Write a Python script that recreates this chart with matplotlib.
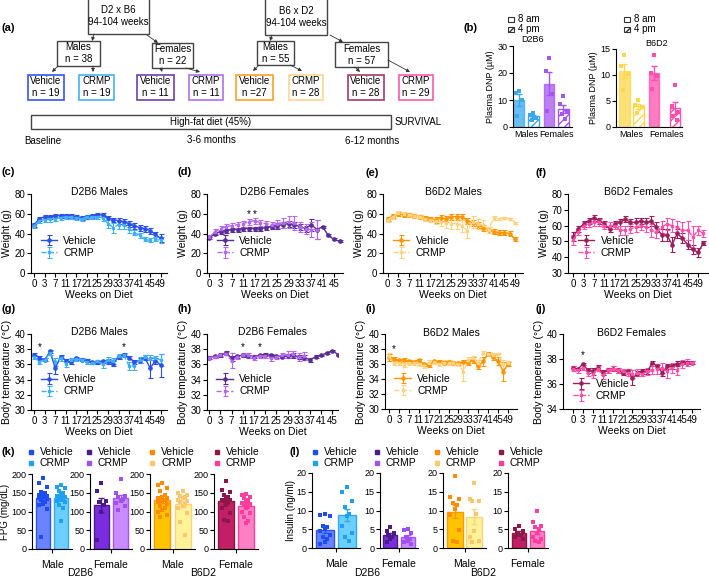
import matplotlib.pyplot as plt
import numpy as np
from matplotlib.patches import Rectangle

plt.rcParams['font.family'] = ['Liberation Sans', 'DejaVu Sans']
plt.rcParams['font.size'] = 7
plt.rcParams['axes.linewidth'] = 0.8

# ---------------- data ----------------
week_labels_49 = ['0', '3', '7', '11', '17', '21', '25', '29', '33', '37', '41', '45', '49']
week_labels_45 = ['0', '3', '7', '11', '17', '21', '25', '29', '33', '37', '41', '45']

# (c) D2B6 males weight
c_veh = [49, 55, 57, 57, 58, 58, 58, 58, 57, 56, 57, 58, 59, 59, 56, 54, 53, 52, 50, 48, 46, 45, 43, 39, 35]
c_veh_err = [2, 2, 2, 2, 2, 2, 2, 2, 2, 2, 2, 2, 2, 2, 2, 2, 3, 3, 3, 3, 3, 3, 3, 3, 4]
c_crmp = [48, 53, 54, 55, 55, 56, 57, 57, 56, 55, 57, 57, 57, 56, 50, 46, 49, 49, 45, 41, 38, 34, 33, 34, 33]
c_crmp_err = [2, 2, 2, 3, 2, 2, 2, 2, 2, 2, 2, 2, 2, 3, 4, 5, 4, 4, 4, 3, 3, 2, 2, 2, 3]
# (d) D2B6 females weight
d_veh = [35, 40, 42, 43, 44, 44, 45, 45, 45, 45, 46, 47, 48, 49, 50, 49, 47, 45, 49, 44, 47, 38, 34, 32]
d_veh_err = [1, 2, 2, 2, 2, 2, 2, 2, 2, 2, 2, 2, 3, 3, 3, 3, 3, 3, 6, 10, 1, 1, 1, 1]
d_crmp = [36, 42, 45, 47, 48, 49, 50, 52, 53, 51, 50, 49, 50, 51, 52, 51, 47, 45, 44, 44]
d_crmp_err = [2, 3, 3, 3, 3, 3, 3, 3, 3, 3, 3, 3, 4, 5, 6, 7, 5, 5, 8, 10]
d_stars = [7, 8]
# (e) B6D2 males weight
e_veh = [55, 58, 60, 59, 59, 58, 57, 56, 55, 54, 56, 55, 57, 57, 57, 53, 51, 49, 46, 44, 42, 41, 41, 40, 34]
e_veh_err = [2, 2, 2, 2, 2, 2, 2, 2, 2, 3, 3, 3, 3, 3, 3, 3, 3, 3, 3, 3, 3, 3, 3, 3, 2]
e_crmp = [54, 57, 61, 60, 59, 58, 57, 55, 54, 53, 52, 51, 50, 50, 48, 43, 52, 50, 49, 44, 56, 55, 56, 55, 51]
e_crmp_err = [2, 2, 2, 2, 2, 2, 2, 2, 2, 3, 4, 5, 5, 5, 6, 8, 6, 5, 5, 3, 2, 1, 1, 1, 1]
# (f) B6D2 females weight
f_veh = [53, 58, 61, 63, 65, 63, 61, 58, 61, 62, 64, 62, 62, 63, 62, 63, 59, 54, 54, 48, 55, 52, 48, 45, 43, 49]
f_veh_err = [3, 2, 2, 2, 2, 2, 2, 2, 2, 2, 2, 2, 3, 2, 3, 3, 3, 4, 4, 5, 3, 3, 3, 3, 3, 1]
f_crmp = [51, 56, 60, 61, 62, 62, 60, 60, 60, 57, 57, 58, 59, 60, 59, 57, 56, 59, 61, 60, 59, 57, 57, 53, 57, 55]
f_crmp_err = [3, 2, 2, 2, 2, 2, 2, 2, 2, 3, 3, 3, 3, 3, 3, 4, 4, 4, 4, 4, 4, 5, 6, 7, 3, 2]

# (g) D2B6 males temperature
g_veh = [37.3, 36.9, 36.6, 37.7, 35.5, 37.0, 36.5, 36.3, 36.8, 36.6, 36.5, 36.3, 36.3, 36.4, 36.4, 36.1,
         37.0, 37.3, 36.9, 36.3, 36.5, 36.9, 35.5, 36.5, 35.9]
g_veh_err = [0.2, 0.2, 0.2, 0.2, 0.8, 0.2, 0.2, 0.2, 0.2, 0.2, 0.2, 0.2, 0.2, 0.2, 0.3, 0.3, 0.3, 0.2,
             0.2, 0.3, 0.3, 0.3, 1.3, 0.4, 1.5]
g_crmp = [37.0, 36.3, 36.6, 37.5, 36.3, 36.8, 36.1, 36.6, 36.7, 36.6, 36.3, 36.2, 36.4, 36.0, 36.6, 36.5,
          37.1, 37.2, 35.8, 35.8, 36.6, 37.0, 36.9, 36.8, 36.6]
g_crmp_err = [0.3, 0.3, 0.2, 0.2, 0.5, 0.3, 0.4, 0.2, 0.2, 0.2, 0.3, 0.2, 0.2, 0.5, 0.4, 0.4, 0.3, 0.2,
              0.5, 0.6, 0.4, 0.3, 0.3, 0.3, 0.8]
g_stars = [1, 17]
# (h) D2B6 females temperature
h_veh = [36.9, 37.1, 37.2, 37.5, 36.8, 37.1, 37.2, 37.1, 37.0, 37.2, 37.3, 37.2, 37.1, 37.0, 37.1, 37.2,
         37.0, 36.9, 36.6, 37.0, 37.2, 37.5, 37.8, 37.3]
h_veh_err = [0.2, 0.2, 0.2, 0.2, 0.3, 0.2, 0.2, 0.2, 0.2, 0.2, 0.2, 0.2, 0.2, 0.2, 0.3, 0.3, 0.3, 0.3,
             0.3, 0.2, 0.1, 0.1, 0.1, 0.1]
h_crmp = [36.9, 37.0, 37.3, 37.4, 36.5, 37.0, 37.3, 37.2, 36.9, 37.1, 37.1, 36.8, 37.0, 37.2, 37.3, 37.4,
          37.0, 37.1]
h_crmp_err = [0.2, 0.2, 0.2, 0.2, 1.0, 0.3, 0.2, 0.3, 0.3, 0.2, 0.2, 0.3, 0.3, 0.3, 0.4, 0.4, 0.5, 0.5]
h_stars = [6, 9]
# (i) B6D2 males temperature
i_veh = [36.9, 36.7, 36.5, 36.6, 36.4, 36.3, 36.5, 36.0, 35.9, 36.4, 36.3, 36.2, 36.3, 36.1, 36.1, 36.3,
         36.2, 36.5, 35.7, 36.4, 37.4, 36.9, 36.4, 35.0, 36.0]
i_veh_err = [0.5, 0.2, 0.2, 0.2, 0.2, 0.2, 0.2, 0.2, 0.3, 0.2, 0.2, 0.2, 0.2, 0.2, 0.2, 0.2, 0.3, 0.4,
             0.4, 0.6, 0.2, 0.3, 0.5, 1.3, 0.3]
i_crmp = [37.1, 36.1, 36.2, 35.9, 36.1, 36.2, 36.0, 35.8, 36.2, 36.3, 36.0, 36.2, 36.2, 36.1, 36.0, 35.0,
          36.5, 36.8, 36.2, 37.5, 37.3, 37.2, 37.4, 36.0, 36.1]
i_crmp_err = [0.4, 0.3, 0.3, 0.3, 0.3, 0.3, 0.3, 0.3, 0.3, 0.3, 0.3, 0.3, 0.3, 0.3, 0.3, 1.2, 0.4, 0.3,
              0.4, 0.2, 0.2, 0.2, 0.1, 0.5, 0.3]
i_stars = [1]
# (j) B6D2 females temperature
j_veh = [37.3, 37.2, 37.6, 37.1, 37.0, 37.3, 36.9, 37.1, 37.2, 37.1, 36.9, 37.0, 36.5, 36.8, 37.0, 37.0,
         37.7, 37.4, 36.9, 37.4, 37.4, 37.6, 37.7, 37.7, 37.7]
j_veh_err = [0.1, 0.1, 0.1, 0.2, 0.3, 0.2, 0.2, 0.2, 0.2, 0.2, 0.2, 0.2, 0.6, 0.2, 0.2, 0.2, 0.1, 0.1,
             0.3, 0.2, 0.2, 0.2, 0.1, 0.1, 0.1]
j_crmp = [37.2, 37.1, 37.3, 36.9, 36.8, 37.2, 36.7, 37.1, 37.2, 37.1, 37.0, 36.9, 36.8, 36.9, 36.8, 37.0,
          37.1, 37.2, 37.3, 37.0, 37.3, 37.1, 37.6, 37.7, 37.7]
j_crmp_err = [0.2, 0.2, 0.2, 0.3, 0.3, 0.2, 0.3, 0.2, 0.2, 0.2, 0.2, 0.3, 0.3, 0.3, 0.2, 0.3, 0.3, 0.4,
              0.4, 0.5, 0.4, 0.4, 0.3, 0.3, 0.1]
j_stars = [2]

# (b) plasma DNP, groups: males 8am, males 4pm, females 8am, females 4pm
b_d2b6 = [[13.3, 12.6, 10.1, 4.0], [5.3, 4.3, 3.5, 2.5], [25.7, 20.7, 12.1, 5.9], [11.5, 8.6, 5.6, 4.9, 3.1]]
b_b6d2 = [[13.8, 11.8, 10.2, 7.2], [5.1, 4.2, 3.9, 2.7], [13.8, 10.4, 9.8, 7.3], [8.1, 4.0, 2.9, 2.2, 1.3]]

# (k) fasting plasma glucose
k_d2b6_m_veh = [190, 176, 165, 152, 150, 148, 145, 142, 140, 140, 138, 136, 134, 130, 125, 120, 118, 108, 32]
k_d2b6_m_crmp = [172, 165, 162, 155, 150, 145, 142, 140, 138, 135, 132, 128, 125, 118, 110, 75]
k_d2b6_f_veh = [175, 155, 128, 125, 118, 100, 25]
k_d2b6_f_crmp = [186, 150, 142, 138, 133, 128, 122, 115, 105]
k_b6d2_m_veh = [175, 170, 162, 155, 145, 140, 137, 135, 132, 130, 128, 125, 120, 115, 110, 105, 100, 90, 85]
k_b6d2_m_crmp = [155, 150, 145, 142, 138, 135, 130, 128, 125, 120, 115, 110, 95, 72, 38]
k_b6d2_f_veh = [182, 158, 152, 145, 140, 135, 132, 130, 128, 125, 118, 110, 95, 78, 75]
k_b6d2_f_crmp = [148, 145, 140, 135, 130, 125, 122, 120, 118, 115, 110, 100, 95, 85, 75, 70]
# (l) insulin
l_d2b6_m_veh = [9.0, 8.8, 8.5, 6.0, 5.5, 5.0, 4.5, 3.5, 3.0, 2.5, 1.5, 1.0]
l_d2b6_m_crmp = [16.3, 15.0, 12.5, 11.0, 9.0, 8.5, 6.0, 4.0, 3.0, 2.0]
l_d2b6_f_veh = [5.6, 4.5, 4.0, 3.5, 3.0, 2.5, 1.5]
l_d2b6_f_crmp = [5.0, 4.8, 4.0, 3.0, 2.5, 2.0, 1.5, 1.0]
l_b6d2_m_veh = [19.3, 13.5, 13.0, 12.0, 11.5, 10.5, 8.8, 4.8, 2.0, 1.5]
l_b6d2_m_crmp = [17.3, 13.0, 12.5, 12.5, 9.0, 4.5, 3.0, 2.0, 1.5]
l_b6d2_f_veh = [6.0, 5.0, 4.5, 4.0, 3.5, 3.5, 3.0, 2.5]
l_b6d2_f_crmp = [9.8, 7.0, 6.0, 5.5, 5.0, 4.0, 3.0, 2.5, 2.0, 1.5]

# colours
BLUE, LBLUE = '#2b50e8', '#3fb0f5'
PURP, LPURP = '#5a2d91', '#b566f5'
ORNG, LORNG = '#ff9500', '#ffd27f'
MAG, PINK = '#9c1f5c', '#ff4fa8'

W, H = 709, 578
fig = plt.figure(figsize=(W / 100, H / 100), dpi=100)


def px_axes(x0, y0, x1, y1):
    return fig.add_axes([x0 / W, 1 - y1 / H, (x1 - x0) / W, (y1 - y0) / H])


def prism(ax, size=7):
    ax.spines['top'].set_visible(False)
    ax.spines['right'].set_visible(False)
    ax.tick_params(length=3, width=0.8, pad=1, labelsize=size)
    ax.patch.set_alpha(0)


ov = fig.add_axes([0, 0, 1, 1])
ov.set_xlim(0, W)
ov.set_ylim(H, 0)
ov.axis('off')

# ---------------- (a) flowchart ----------------
def box(x0, y0, x1, y1, txt, ec='#444444', lw=1.0):
    ov.add_patch(Rectangle((x0, y0), x1 - x0, y1 - y0, fill=False, ec=ec, lw=lw))
    ov.text((x0 + x1) / 2, (y0 + y1) / 2, txt, ha='center', va='center', fontsize=7, linespacing=1.25)


def arrow(p0, p1):
    ov.annotate('', xy=p1, xytext=p0,
                arrowprops=dict(arrowstyle='-|>', color='#333333', lw=0.6, mutation_scale=5,
                                shrinkA=0, shrinkB=0))


box(88, -2, 149, 34, 'D2 x B6\n94-104 weeks')
box(265, -2, 327, 35, 'B6 x D2\n94-104 weeks')
box(57, 41, 100, 66, 'Males\nn = 38')
box(152, 43, 193, 68, 'Females\nn = 22')
box(257, 41, 294, 65, 'Males\nn = 55')
box(335, 42, 388, 67, 'Females\nn = 57')
leaves = [(28, 64, 'Vehicle\nn = 19', '#3555e8'), (79, 114, 'CRMP\nn = 19', '#47b0f0'),
          (137, 174, 'Vehicle\nn = 11', '#7040a8'), (189, 223, 'CRMP\nn = 11', '#b070f0'),
          (236, 273, 'Vehicle\nn =27', '#ffa028'), (289, 323, 'CRMP\nn = 28', '#ffd590'),
          (348, 384, 'Vehicle\nn = 28', '#a63a6a'), (399, 433, 'CRMP\nn = 29', '#ff5aa8')]
for x0, x1, t, c in leaves:
    box(x0, 75, x1, 100, t, ec=c, lw=1.2)
for p0, p1 in [((94, 34), (92, 41)), ((147, 35), (158, 43)), ((272, 35), (270, 41)),
               ((330, 35), (343, 42)), ((58, 66), (52, 72)), ((93, 66), (93, 72)),
               ((161, 68), (162, 72)), ((186, 68), (200, 72)), ((259, 65), (253, 71)),
               ((290, 65), (302, 71)), ((355, 67), (360, 72)), ((388, 60), (410, 72))]:
    arrow(p0, p1)
ov.add_patch(Rectangle((31, 115), 360, 14, fill=False, ec='#444444', lw=1.0))
ov.text(211, 122, 'High-fat diet (45%)', ha='center', va='center')
ov.text(395, 122, 'SURVIVAL', ha='left', va='center')
ov.text(24, 141, 'Baseline', ha='left', va='center')
ov.text(211, 140, '3-6 months', ha='center', va='center')
ov.text(372, 141, '6-12 months', ha='center', va='center')

# panel letters
for lab, x, y in [('(a)', 2, 28), ('(b)', 463, 28), ('(c)', 2, 172), ('(d)', 177, 172),
                  ('(e)', 366, 173), ('(f)', 535, 173), ('(g)', 2, 309), ('(h)', 177, 309),
                  ('(i)', 365, 309), ('(j)', 536, 309), ('(k)', 2, 452), ('(l)', 290, 452)]:
    ov.text(x, y, lab, fontsize=8, fontweight='bold', ha='left', va='center')

# ---------------- (b) plasma DNP ----------------
def dnp_panel(bx, groups, pos, c_m, c_f, title, ymax, yticks, tx, lx, xlim, flab_x):
    ax = px_axes(*bx)
    prism(ax, 6.5)
    cols = [c_m, c_m, c_f, c_f]
    offs = [0, -0.22, 0.22, -0.11, 0.11]
    for k, pts in enumerate(groups):
        m = np.mean(pts)
        se = np.std(pts, ddof=1) / np.sqrt(len(pts))
        if k % 2 == 0:
            ax.bar(pos[k], m, width=0.75, color=cols[k], alpha=0.75, ec=cols[k], lw=1)
        else:
            ax.bar(pos[k], m, width=0.75, color='white', ec=cols[k], lw=1, hatch='////')
        ax.errorbar(pos[k], m, yerr=se, color=cols[k], capsize=2.5, lw=1, capthick=1)
        ax.scatter([pos[k] + offs[i % 5] for i in range(len(pts))], pts, marker='s', s=5,
                   color=cols[k], zorder=3, lw=0)
    ax.set_ylim(0, ymax)
    ax.set_yticks(yticks)
    ax.set_xlim(*xlim)
    ax.set_xticks([(pos[0] + pos[1]) / 2, flab_x])
    ax.set_xticklabels(['Males', 'Females'], fontsize=6.5)
    ax.tick_params(axis='x', length=0, pad=2)
    ax.set_ylabel('Plasma DNP (µM)', fontsize=6.5, labelpad=2)
    ov.text(tx, bx[1] - 6, title, ha='center', va='center', fontsize=6.5)
    ov.add_patch(Rectangle((lx, 17), 6, 5, fill=False, ec='#333333', lw=0.8))
    ov.add_patch(Rectangle((lx, 27), 6, 5, fill=False, ec='#333333', lw=0.8, hatch='////'))
    ov.text(lx + 10, 19.5, '8 am', va='center')
    ov.text(lx + 10, 29.5, '4 pm', va='center')


dnp_panel((513, 46, 572, 127), b_d2b6, [0, 1, 2.1, 3.1], '#3aa8ee', '#a655f2', 'D2B6',
          30, [0, 10, 20, 30], 533, 508, (-0.4, 3.7), 2.65)
dnp_panel((616, 49, 682, 127), b_b6d2, [0, 1, 2.1, 3.6], '#ffd84a', '#ff4fae', 'B6D2',
          15, [0, 5, 10, 15], 657, 624, (-0.6, 4.1), 3.0)

# ---------------- (c)-(j) time courses ----------------
def course(bx, veh, veh_err, crmp, crmp_err, cv, cc, title, ylim, yticks, ylabel, xlim,
           labels, stars, star_y, leg_y=0.47):
    ax = px_axes(*bx)
    prism(ax)
    ax.errorbar(np.arange(len(veh)), veh, yerr=veh_err, color=cv, fmt='-o', ms=2.3, lw=1,
                elinewidth=0.8, capsize=1.8, capthick=0.8, label='Vehicle')
    ax.errorbar(np.arange(len(crmp)), crmp, yerr=crmp_err, color=cc, fmt='--s', ms=1.8, lw=1,
                elinewidth=0.8, capsize=1.8, capthick=0.8, label='CRMP')
    for s in stars:
        ax.text(s, star_y, '*', ha='center', va='center', fontsize=7)
    ax.set_xticks(np.arange(len(labels)) * 2)
    ax.set_xticklabels(labels)
    ax.set_xlim(*xlim)
    ax.set_ylim(*ylim)
    ax.set_yticks(yticks)
    ax.set_xlabel('Weeks on Diet', fontsize=7.5, labelpad=1)
    ax.set_ylabel(ylabel, fontsize=7.5, labelpad=2)
    ax.text(0.5, 1.02, title, transform=ax.transAxes, ha='center', va='center', fontsize=7.5)
    ax.legend(loc='upper left', bbox_to_anchor=(0.07, leg_y), frameon=False, fontsize=7.5,
              handlelength=1.6, handletextpad=0.6, labelspacing=0.2, borderaxespad=0, borderpad=0)
    return ax


wt = [0, 20, 40, 60, 80]
course((31, 194, 167, 273), c_veh, c_veh_err, c_crmp, c_crmp_err, BLUE, LBLUE, 'D2B6 Males',
       (0, 80), wt, 'Weight (g)', (-0.6, 25.2), week_labels_49, [], 0)
course((207, 194, 343, 273), d_veh, d_veh_err, d_crmp, d_crmp_err, PURP, LPURP, 'D2B6 Females',
       (0, 80), wt, 'Weight (g)', (-0.4, 23.6), week_labels_45, d_stars, 60)
course((383, 194, 523, 273), e_veh, e_veh_err, e_crmp, e_crmp_err, ORNG, LORNG, 'B6D2 Males',
       (0, 80), wt, 'Weight (g)', (-0.9, 25.5), week_labels_49, [], 0)
course((568, 194, 708, 273), f_veh, f_veh_err, f_crmp, f_crmp_err, MAG, PINK, 'B6D2 Females',
       (30, 80), [30, 40, 50, 60, 70, 80], 'Weight (g)', (-1, 25.9), week_labels_49, [], 0)

tp = [30, 32, 34, 36, 38, 40]
course((31, 334, 167, 410), g_veh, g_veh_err, g_crmp, g_crmp_err, BLUE, LBLUE, 'D2B6 Males',
       (30, 40), tp, 'Body temperature (°C)', (-0.6, 25.2), week_labels_49, g_stars, 38.3)
course((207, 334, 338, 410), h_veh, h_veh_err, h_crmp, h_crmp_err, PURP, LPURP, 'D2B6 Females',
       (30, 40), tp, 'Body temperature (°C)', (-0.4, 23.0), week_labels_45, h_stars, 38.3)
course((385, 334, 517, 409), i_veh, i_veh_err, i_crmp, i_crmp_err, ORNG, LORNG, 'B6D2 Males',
       (30, 40), tp, 'Body temperature (°C)', (-0.8, 25.8), week_labels_49, i_stars, 38.0)
course((563, 334, 700, 409), j_veh, j_veh_err, j_crmp, j_crmp_err, MAG, PINK, 'B6D2 Females',
       (34, 40), [34, 36, 38, 40], 'Body temperature (°C)', (-2, 25.6), week_labels_49, j_stars, 38.3,
       leg_y=0.4)

# ---------------- (k) and (l) bars ----------------
grp_cols = [
    ('#6a84ff', '#2f55f0', '#1d4ef5', '#6dcfff', '#33aaf0', '#1fa0f0'),
    ('#7a2de0', '#4f1c8c', '#4a1a88', '#c98bff', '#a456f0', '#a050f0'),
    ('#ffc400', '#ff9800', '#ff8c00', '#fff39a', '#ffd27a', '#ffc66b'),
    ('#c21f66', '#8e1649', '#8e1649', '#ff80c4', '#ff3d9e', '#ff3d9e'),
]
sex_labels = ['Male', 'Female', 'Male', 'Female']


def bar_pair(bx, veh, crmp, cols, ymax, yticks, xlabel, ylabel, ylab_x):
    ax = px_axes(*bx)
    prism(ax, 6.5)
    offs = [0, -0.22, 0.22, -0.11, 0.11]
    for k, pts in enumerate([veh, crmp]):
        fill, edge, pc = cols[3 * k:3 * k + 3]
        m = np.mean(pts)
        se = np.std(pts, ddof=1) / np.sqrt(len(pts))
        ax.bar(k, m, width=0.8, color=fill, ec=edge, lw=1)
        ax.errorbar(k, m, yerr=se, color=edge, capsize=2.5, lw=1, capthick=1)
        ax.scatter([k + offs[i % 5] for i in range(len(pts))], pts, marker='s', s=5, color=pc,
                   zorder=3, lw=0)
    ax.set_ylim(0, ymax)
    ax.set_yticks(yticks)
    ax.set_xlim(-0.6, 1.6)
    ax.set_xticks([0.5])
    ax.set_xticklabels([xlabel], fontsize=7.5)
    ax.tick_params(axis='x', pad=5)
    if ylabel:
        ax.set_ylabel(ylabel, fontsize=7)
        ax.yaxis.set_label_coords(ylab_x, 0.5)


k_data = [(k_d2b6_m_veh, k_d2b6_m_crmp), (k_d2b6_f_veh, k_d2b6_f_crmp),
          (k_b6d2_m_veh, k_b6d2_m_crmp), (k_b6d2_f_veh, k_b6d2_f_crmp)]
l_data = [(l_d2b6_m_veh, l_d2b6_m_crmp), (l_d2b6_f_veh, l_d2b6_f_crmp),
          (l_b6d2_m_veh, l_b6d2_m_crmp), (l_b6d2_f_veh, l_b6d2_f_crmp)]
k_boxes = [(32, 474, 72, 549), (90, 474, 132, 549), (150, 474, 195, 549), (214, 474, 258, 549)]
l_boxes = [(312, 473, 360, 548), (380, 473, 418, 548), (443, 473, 486, 548), (508, 473, 548, 548)]
k_leg_x = [31, 89, 152, 217]
l_leg_x = [315, 377, 437, 501]

for n in range(4):
    bar_pair(k_boxes[n], *k_data[n], grp_cols[n], 200, [0, 50, 100, 150, 200], sex_labels[n],
             'FPG (mg/dL)' if n == 0 else None, -0.56)
    bar_pair(l_boxes[n], *l_data[n], grp_cols[n], 20, [0, 5, 10, 15, 20], sex_labels[n],
             'Insulin (ng/ml)' if n == 0 else None, -0.34)
    for lx in (k_leg_x[n], l_leg_x[n]):
        ov.plot(lx, 452, 's', ms=2.5, color=grp_cols[n][2])
        ov.plot(lx, 463, 's', ms=2.5, color=grp_cols[n][5])
        ov.text(lx + 9, 452, 'Vehicle', va='center', fontsize=7.5)
        ov.text(lx + 9, 463, 'CRMP', va='center', fontsize=7.5)

for t, x in [('D2B6', 80), ('B6D2', 203), ('D2B6', 367), ('B6D2', 483)]:
    ov.text(x, 573, t, ha='center', va='center', fontsize=7.5)

fig.savefig('out.png', dpi=100)
